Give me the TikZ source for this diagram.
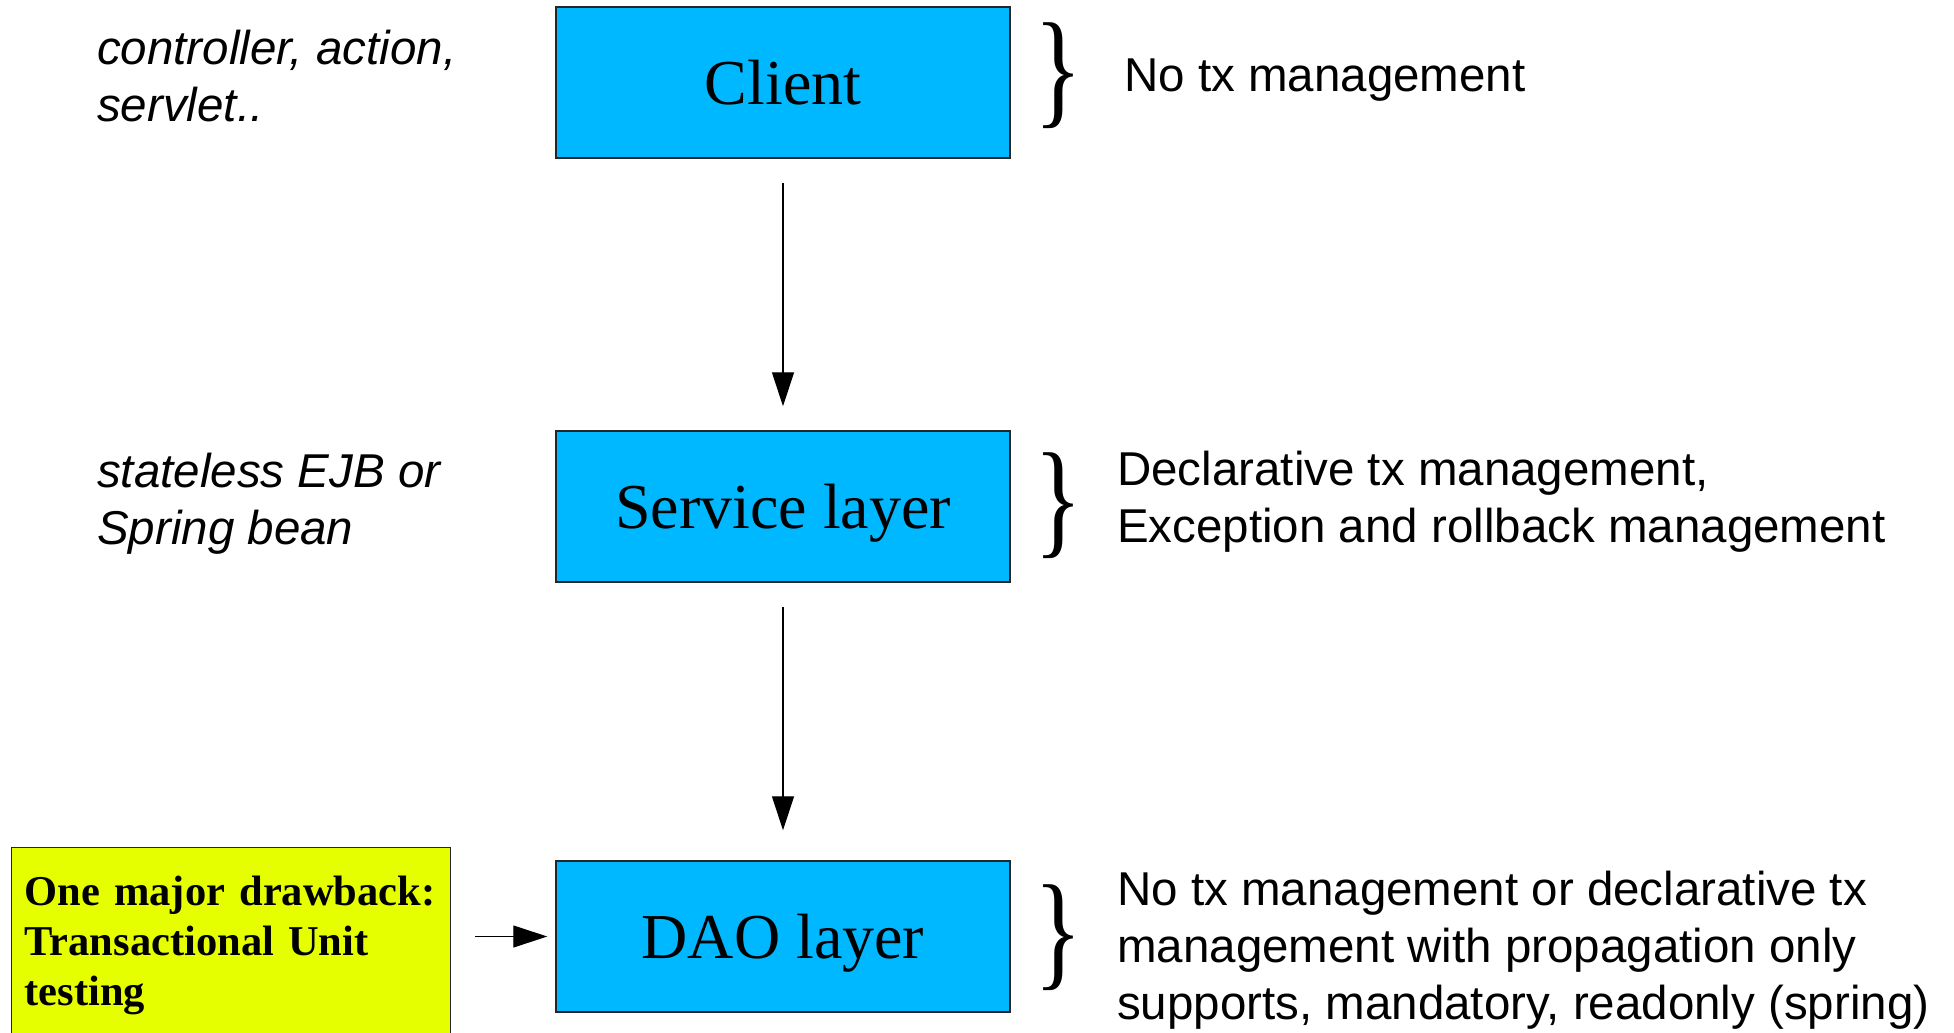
\documentclass[tikz,border=0pt]{standalone}
\usepackage{fontspec}
\setmainfont{Liberation Sans}
\newfontfamily\boxfont{Liberation Serif}
\usetikzlibrary{arrows.meta}
\definecolor{layerblue}{HTML}{00B8FF}
\definecolor{noteyellow}{HTML}{E6FF00}
\begin{document}
\begin{tikzpicture}[x=1pt,y=-1pt,
  layer/.style={draw=black!85, line width=1.5pt, fill=layerblue, minimum width=454pt, minimum height=151pt, inner sep=0pt, font=\boxfont\fontsize{64}{77}\selectfont, text height=57pt, text depth=13.8pt},
  note/.style={draw=black!85, line width=1.2pt, fill=noteyellow, text width=413pt, inner xsep=13pt, inner ysep=0pt, minimum height=196pt, align=left, font=\boxfont\bfseries\fontsize{42.5}{50}\selectfont},
  flow/.style={line width=1.2pt, -{Triangle[length=34pt,width=22pt]}},
  annot/.style={font=\fontsize{47.5}{57}\selectfont, inner sep=0pt, align=left, anchor=west},
  side/.style={annot, font=\fontsize{47.5}{57}\selectfont\itshape},
  brace/.style={font=\boxfont\fontsize{128}{128}\selectfont, inner sep=0pt}
]
\useasboundingbox (0,0) rectangle (1954,1033);
\fill[white] (0,0) rectangle (1954,1033);

\node[layer] (client) at (783,82.5) {Client};
\node[layer] (service) at (783,506.5) {Service layer};
\node[layer] (dao) at (783,936.5) {DAO layer};

\node[note, anchor=north west] (note) at (11,847) {One major drawback:\\Transactional Unit\\testing};

\draw[flow, shorten <=24pt, shorten >=24pt] (client) -- (service);
\draw[flow, shorten <=24pt, shorten >=30pt] (service) -- (dao);
\draw[flow, shorten <=24pt, shorten >=8pt] (note.east |- dao.west) -- (dao.west);

\node[side] (clientrole) at (97,76) {controller, action,\\servlet..};
\node[side] (servicerole) at (97,503.7) {stateless EJB or\\Spring bean};

\node[brace] (clientbrace) at (1058,76) {\scalebox{0.78}[1]{\}}};
\node[brace] (servicebrace) at (1058,506) {\scalebox{0.78}[1]{\}}};
\node[brace] (daobrace) at (1058,938) {\scalebox{0.78}[1]{\}}};

\node[annot] (clienttx) at (1124,79.7) {No tx management};
\node[annot] (servicetx) at (1117,502.2) {Declarative tx management,\\Exception and rollback management};
\node[annot] (daotx) at (1117,950) {No tx management or declarative tx\\management with propagation only\\supports, mandatory, readonly (spring)};
\end{tikzpicture}
\end{document}
